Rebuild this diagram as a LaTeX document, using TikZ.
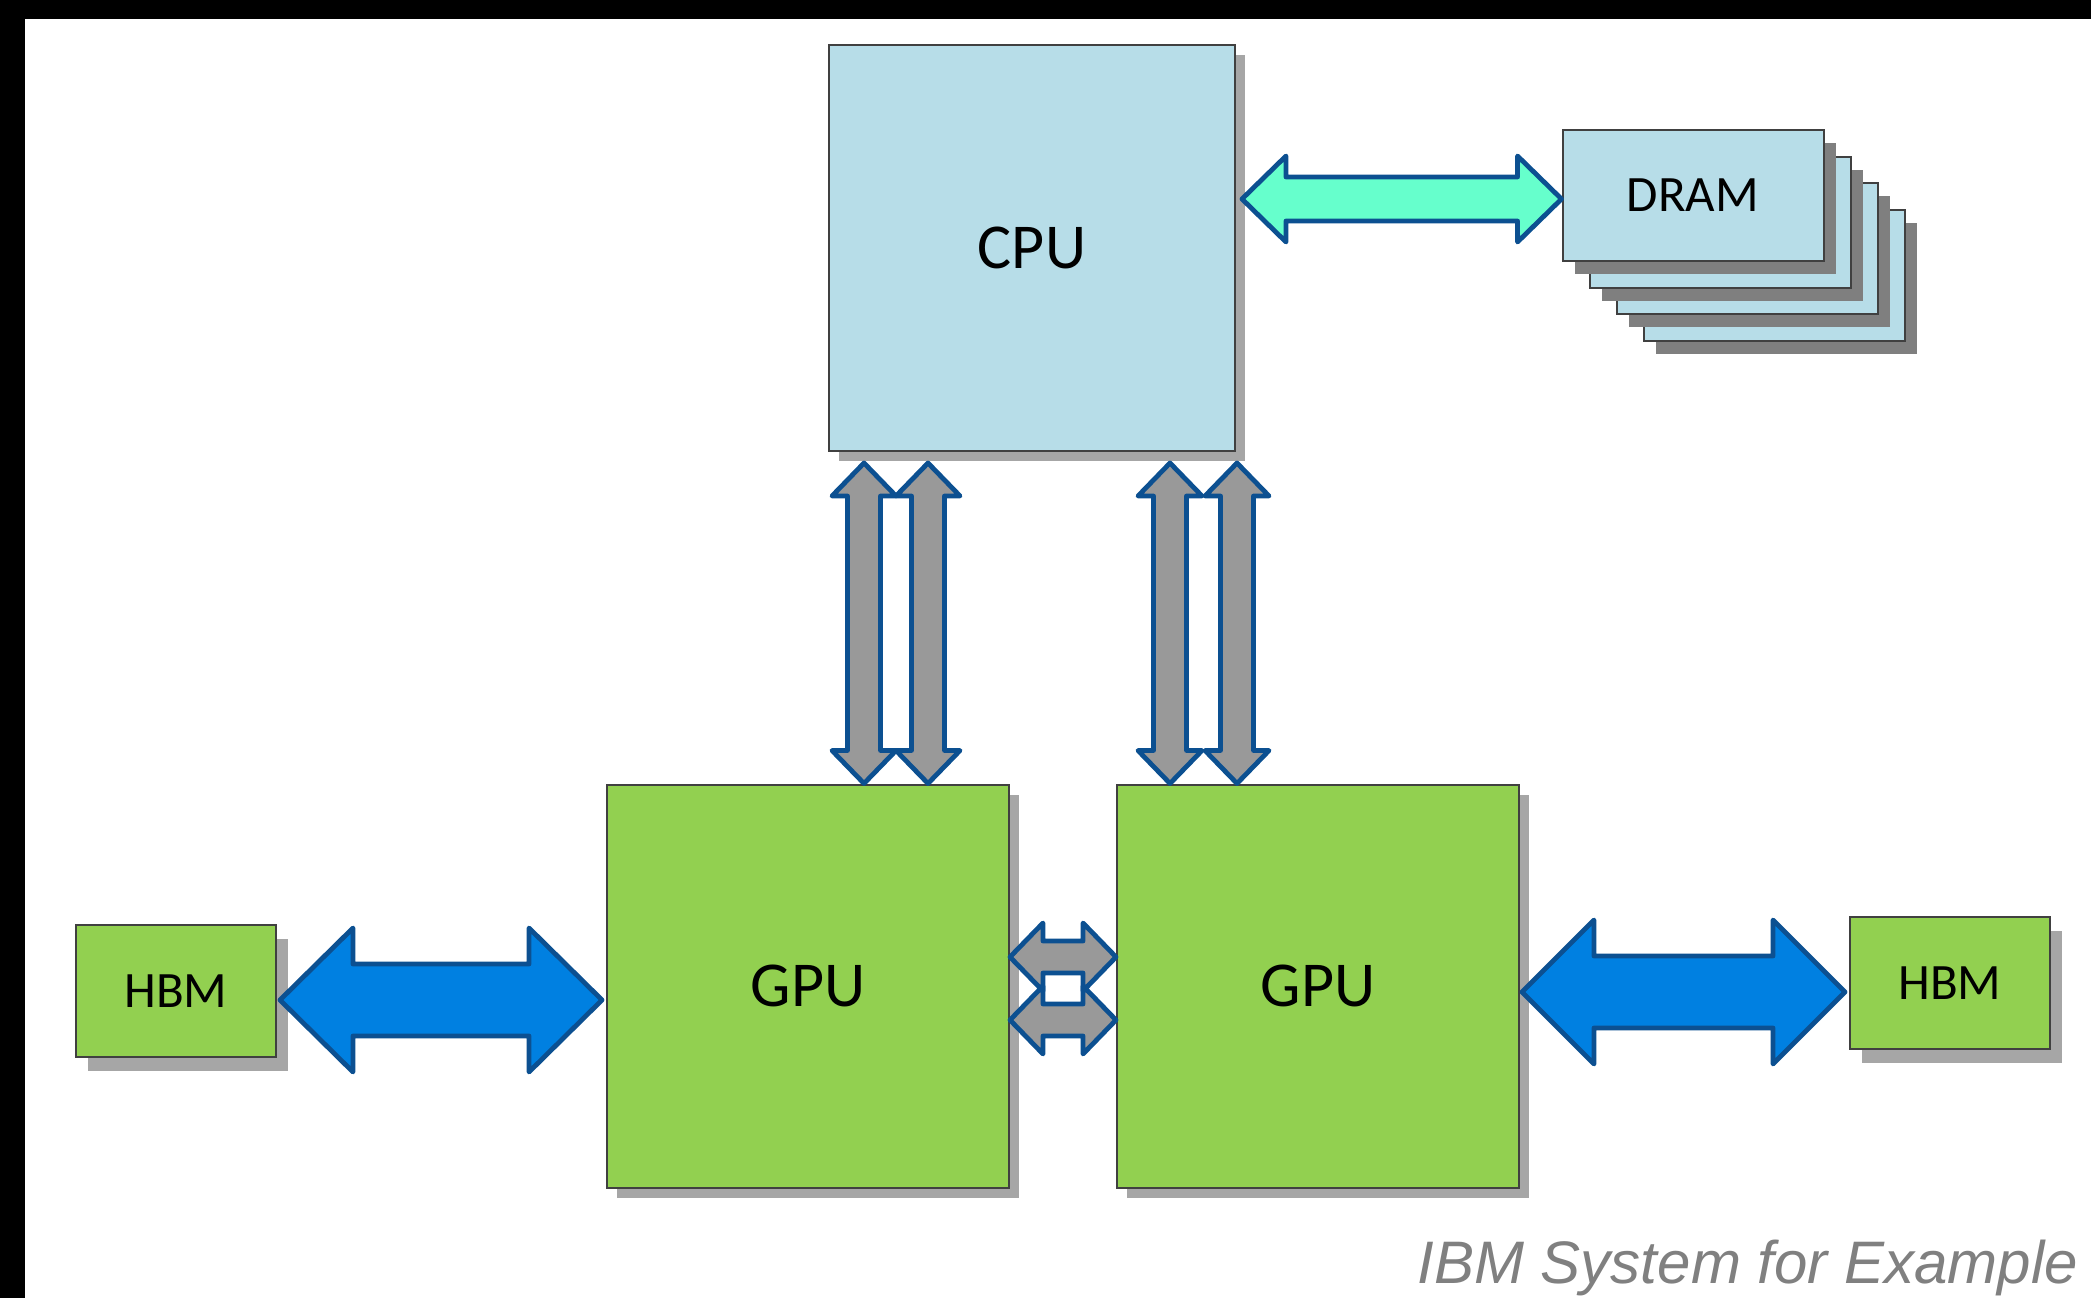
\documentclass[tikz,border=0pt]{standalone}
\usepackage{fontspec}
\setmainfont{Carlito}
\newfontfamily\capfont{Liberation Sans}
\usetikzlibrary{calc,shadows}
\definecolor{cpublue}{RGB}{183,221,232}
\definecolor{gpugreen}{RGB}{146,208,80}
\definecolor{boxline}{RGB}{64,64,64}
\definecolor{shadowgray}{RGB}{166,166,166}
\definecolor{dramshadow}{RGB}{127,127,127}
\definecolor{arrowline}{RGB}{12,80,145}
\definecolor{tealfill}{RGB}{102,255,204}
\definecolor{bluefill}{RGB}{0,128,225}
\definecolor{grayfill}{RGB}{153,153,153}
\definecolor{textgray}{RGB}{128,128,128}
\tikzset{
  box/.style={draw=boxline, line width=2pt, inner sep=0pt, text=black},
  cpubox/.style={box, fill=cpublue, minimum width=406pt, minimum height=406pt,
    font=\fontsize{64pt}{70pt}\selectfont,
    drop shadow={shadow xshift=10pt, shadow yshift=-10pt, fill=shadowgray, opacity=1}},
  drambox/.style={box, fill=cpublue, minimum width=261pt, minimum height=131pt,
    font=\fontsize{51pt}{56pt}\selectfont,
    drop shadow={shadow xshift=12pt, shadow yshift=-13pt, fill=dramshadow, opacity=1}},
  gpubox/.style={box, fill=gpugreen, minimum width=402pt, minimum height=403pt,
    font=\fontsize{64pt}{70pt}\selectfont,
    drop shadow={shadow xshift=10pt, shadow yshift=-10pt, fill=shadowgray, opacity=1}},
  hbmbox/.style={box, fill=gpugreen, minimum width=200pt, minimum height=132pt,
    font=\fontsize{51pt}{56pt}\selectfont,
    drop shadow={shadow xshift=12pt, shadow yshift=-14pt, fill=shadowgray, opacity=1}},
  fatarrow/.style={draw=arrowline, line width=4.8pt, line join=round},
  tealarrow/.style={fatarrow, fill=tealfill},
  bluearrow/.style={fatarrow, fill=bluefill},
  grayarrow/.style={fatarrow, fill=grayfill},
}
% #1 style, #2 start tip, #3 end tip, #4 shaft half width, #5 head half width, #6 head length
\newcommand\dblfat[6]{%
  \coordinate (fa) at ($(#2)!#6!(#3)$);
  \coordinate (fb) at ($(#3)!#6!(#2)$);
  \draw[#1] (#2) -- ($(fa)!#5!90:(#3)$) -- ($(fa)!#4!90:(#3)$)
    -- ($(fb)!#4!-90:(#2)$) -- ($(fb)!#5!-90:(#2)$) -- (#3)
    -- ($(fb)!#5!90:(#2)$) -- ($(fb)!#4!90:(#2)$)
    -- ($(fa)!#4!-90:(#3)$) -- ($(fa)!#5!-90:(#3)$) -- cycle;}
\begin{document}
\begin{tikzpicture}[x=1pt,y=-1pt]
\useasboundingbox (0,0) rectangle (2091,1298);
\fill[white] (0,0) rectangle (2091,1298);
\fill[black] (0,0) rectangle (2091,19);
\fill[black] (0,0) rectangle (25,1298);

% boxes
\node[cpubox] (cpu) at (1032,248) {CPU};
\node[drambox] (dram4) at (1774,275) {};
\node[drambox] (dram3) at (1747,248) {};
\node[drambox] (dram2) at (1720,222) {};
\node[drambox] (dram1) at (1693,195) {DRAM};
\node[gpubox] (gpu1) at (808,986) {GPU};
\node[gpubox] (gpu2) at (1318,986) {GPU};
\node[hbmbox] (hbmL) at (176,991) {HBM};
\node[hbmbox] (hbmR) at (1950,983) {HBM};

% CPU - DRAM
\coordinate (t1) at ($(cpu.east |- dram1.west)+(6,4)$);
\coordinate (t2) at ($(dram1.west)+(0,4)$);
\dblfat{tealarrow}{t1}{t2}{22pt}{43pt}{44pt}

% CPU - GPU links
\coordinate (u1) at ($(cpu.south)+(-168,11)$);
\coordinate (d1) at ($(gpu1.north)+(56,0)$);
\coordinate (u2) at ($(cpu.south)+(-104,11)$);
\coordinate (d2) at ($(gpu1.north)+(120,0)$);
\coordinate (u3) at ($(cpu.south)+(138,11)$);
\coordinate (d3) at ($(gpu2.north)+(-148,0)$);
\coordinate (u4) at ($(cpu.south)+(205,11)$);
\coordinate (d4) at ($(gpu2.north)+(-81,0)$);
\dblfat{grayarrow}{u1}{d1}{16.5pt}{32pt}{33pt}
\dblfat{grayarrow}{u2}{d2}{16.5pt}{32pt}{33pt}
\dblfat{grayarrow}{u3}{d3}{16.5pt}{32pt}{33pt}
\dblfat{grayarrow}{u4}{d4}{16.5pt}{32pt}{33pt}

% GPU - GPU links
\coordinate (g1a) at ($(gpu1.east)+(0,-29)$);
\coordinate (g2a) at ($(gpu2.west)+(0,-29)$);
\coordinate (g1b) at ($(gpu1.east)+(0,34)$);
\coordinate (g2b) at ($(gpu2.west)+(0,34)$);
\dblfat{grayarrow}{g1a}{g2a}{16pt}{34pt}{33pt}
\dblfat{grayarrow}{g1b}{g2b}{16pt}{34pt}{33pt}

% HBM - GPU links
\coordinate (bl1) at ($(hbmL.east)+(3,9)$);
\coordinate (bl2) at ($(gpu1.west)+(-4,14)$);
\coordinate (br1) at ($(gpu2.east)+(2,6)$);
\coordinate (br2) at ($(hbmR.west)+(-4,9)$);
\dblfat{bluearrow}{bl1}{bl2}{36pt}{72pt}{73pt}
\dblfat{bluearrow}{br1}{br2}{36pt}{72pt}{72pt}

% caption
\node[anchor=base east, inner sep=0pt, text=textgray,
  font=\capfont\itshape\fontsize{60pt}{66pt}\selectfont] (cap) at (2078,1283) {IBM System for Example};
\end{tikzpicture}
\end{document}
